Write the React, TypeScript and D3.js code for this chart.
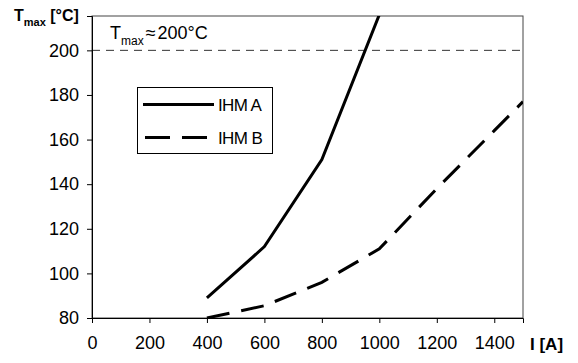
import React, { useEffect, useRef } from 'react';
import * as d3 from 'd3';

const currents = [400, 600, 800, 1000];
const ihmA = [89, 112, 151, 216];
const currentsB = [400, 600, 800, 1000, 1200, 1400, 1500];
const ihmB = [80, 85.5, 96, 111, 138, 164, 177];
const xTicks = [0, 200, 400, 600, 800, 1000, 1200, 1400];
const yTicks = [80, 100, 120, 140, 160, 180, 200];
const tmaxLimit = 200;

const FONT = "'Liberation Sans', Arial, sans-serif";

const App = () => {
  const ref = useRef<SVGSVGElement>(null);

  useEffect(() => {
    const svg = d3.select(ref.current);
    svg.selectAll('*').remove();

    const margin = { top: 16, right: 55, bottom: 45, left: 92 };
    const width = 523 - margin.left;
    const height = 318 - margin.top;

    const x = d3.scaleLinear().domain([0, 1500]).range([0, width]);
    const y = d3.scaleLinear().domain([80, 215.4]).range([height, 0]);

    svg.append('defs').append('clipPath').attr('id', 'plotClip')
      .append('rect').attr('width', width).attr('height', height);

    const g = svg.append('g').attr('transform', `translate(${margin.left},${margin.top})`);

    // plot box
    g.append('rect')
      .attr('width', width).attr('height', height)
      .attr('fill', 'none').attr('stroke', '#444').attr('stroke-width', 1);

    // limit line
    g.append('line')
      .attr('x1', 0).attr('x2', width)
      .attr('y1', y(tmaxLimit)).attr('y2', y(tmaxLimit))
      .attr('stroke', '#333').attr('stroke-width', 1)
      .attr('stroke-dasharray', '8,6');

    const line = d3.line<[number, number]>().x(d => x(d[0])).y(d => y(d[1]));

    const plot = g.append('g').attr('clip-path', 'url(#plotClip)');
    plot.append('path')
      .datum(currents.map((c, i) => [c, ihmA[i]] as [number, number]))
      .attr('d', line).attr('fill', 'none')
      .attr('stroke', '#000').attr('stroke-width', 3);
    plot.append('path')
      .datum(currentsB.map((c, i) => [c, ihmB[i]] as [number, number]))
      .attr('d', line).attr('fill', 'none')
      .attr('stroke', '#000').attr('stroke-width', 3)
      .attr('stroke-dasharray', '23,12');

    // axes
    const yAxis = g.append('g')
      .call(d3.axisLeft(y).tickValues(yTicks).tickSize(5).tickPadding(8).tickFormat(d3.format('d')));
    yAxis.select('.domain').attr('stroke', '#000');
    yAxis.selectAll('text').attr('font-size', 18).attr('font-family', FONT).attr('fill', '#000');

    const xAxis = g.append('g').attr('transform', `translate(0,${height})`)
      .call(d3.axisBottom(x).tickValues(xTicks).tickSize(5).tickPadding(13).tickFormat(d3.format('d')));
    xAxis.select('.domain').attr('stroke', '#000');
    xAxis.selectAll('text').attr('font-size', 18).attr('font-family', FONT).attr('fill', '#000');

    // axis titles
    const yt = svg.append('text').attr('x', 14).attr('y', 21)
      .attr('font-family', FONT).attr('font-weight', 'bold').attr('font-size', 16);
    yt.append('tspan').text('T');
    yt.append('tspan').attr('font-size', 11).attr('dy', 5).text('max');
    yt.append('tspan').attr('dy', -5).text(' [°C]');

    svg.append('text').attr('x', 530).attr('y', 350)
      .attr('font-family', FONT).attr('font-weight', 'bold').attr('font-size', 17)
      .text('I [A]');

    // annotation
    const ann = svg.append('text').attr('x', 110).attr('y', 39)
      .attr('font-family', FONT).attr('font-size', 18);
    ann.append('tspan').text('T');
    ann.append('tspan').attr('font-size', 12).attr('dy', 6).text('max');
    ann.append('tspan').attr('dy', -6).attr('dx', 2).text('≈');
    ann.append('tspan').attr('dx', 2).text('200°C');

    // legend
    const lg = svg.append('g');
    lg.append('rect').attr('x', 137.5).attr('y', 87.5).attr('width', 135).attr('height', 66)
      .attr('fill', '#fff').attr('stroke', '#000').attr('stroke-width', 1);
    const items = [
      { name: 'IHM A', dash: null, yy: 104.5 },
      { name: 'IHM B', dash: '25,12', yy: 137.5 },
    ];
    items.forEach(it => {
      lg.append('line').attr('x1', it.dash ? 145 : 143).attr('x2', it.dash ? 207 : 214)
        .attr('y1', it.yy).attr('y2', it.yy)
        .attr('stroke', '#000').attr('stroke-width', 3)
        .attr('stroke-dasharray', it.dash);
      lg.append('text').attr('x', 218).attr('y', it.yy + 6)
        .attr('font-family', FONT).attr('font-size', 17).attr('letter-spacing', -0.6)
        .text(it.name);
    });
  }, []);

  return (
    <svg ref={ref} width={578} height={363}
      style={{ position: 'absolute', left: 0, top: 0, background: '#fff' }} />
  );
};

export default App;
